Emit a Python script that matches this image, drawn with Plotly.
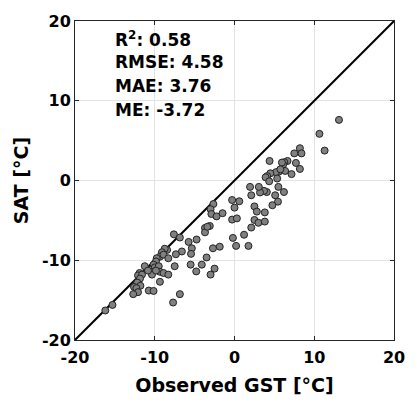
import plotly.graph_objects as go

gst = [13.1, 10.65, 11.3, 8.2, 8.4, 7.5, 7.7, 8.2, 7.15, 6.65, 6.25, 6.1, 5.95, 6.35, 5.55, 5.2, 5.75,
       4.4, 4.5, 4.1, 3.9, 4.35, 5.35, 5.5, 6.2, 5.1, 5.45, 4.75, 4.05, 3.7, 3.2, 3.05, 1.95, 2.1,
       2.5, 2.8, 3.8, 2.5, 3.0, 3.8, 2.1, 1.2, 1.75, -0.2, 0.2, -0.3, 0.6, 0.0, -0.3, 0.3,
       -2.65, -3.0, -2.9, -2.25, -1.5, -3.1, -3.7, -3.7, -3.4, -2.7, -1.85, -4.75, -5.75, -5.35,
       -5.45, -3.5, -4.1, -5.5, -4.8, -3.0, -2.5, -7.6, -6.85, -6.6, -7.35, -7.5, -6.85, -7.7,
       -8.45, -8.75, -9.1, -9.35, -9.75, -8.9, -8.3, -9.85, -10.15, -10.0, -9.5, -9.35, -10.35,
       -10.35, -8.9, -8.3, -9.35, -11.25, -10.85, -11.9, -12.1, -11.6, -11.85, -12.2, -11.8,
       -12.6, -12.3, -12.1, -12.7, -10.75, -10.15, -16.2, -15.3, -9.85]
sat = [7.6, 5.85, 3.75, 4.05, 3.4, 3.4, 2.2, 1.45, 0.8, 2.45, 2.3, 2.0, 2.25, 1.2, 1.1, 1.05, 1.4,
       2.45, 0.9, 0.55, 0.4, -0.1, 0.25, -0.8, -1.45, -1.85, -2.65, -3.1, -1.45, -1.3, -1.5, -0.8,
       -0.8, -1.85, -3.25, -3.9, -4.0, -4.95, -5.3, -5.15, -5.9, -6.8, -8.2, -7.2, -8.2, -2.45,
       -2.6, -3.4, -4.9, -4.75, -2.95, -3.6, -4.2, -4.5, -4.1, -5.7, -5.95, -6.5, -5.8, -8.5,
       -8.3, -7.4, -7.7, -8.5, -9.2, -9.65, -10.55, -10.55, -11.4, -11.8, -11.05, -6.75, -7.15,
       -8.9, -9.25, -10.75, -14.25, -15.3, -8.7, -8.55, -9.0, -9.55, -9.75, -9.3, -9.75, -10.15,
       -10.55, -10.9, -10.75, -11.45, -11.45, -11.8, -11.6, -11.8, -12.7, -10.75, -11.3, -11.6,
       -11.9, -11.8, -12.3, -12.8, -13.2, -13.35, -13.5, -14.0, -14.25, -13.8, -13.85, -16.3,
       -15.6, -11.3]

axis_range = [-20, 20]
tick_vals = [-20, -10, 0, 10, 20]
tick_text = ["-20", "-10", "0", "10", "20"]
stats_lines = ["R<sup>2</sup>: 0.58", "RMSE: 4.58", "MAE: 3.76", "ME: -3.72"]

FONT = "DejaVu Sans"

fig = go.Figure()
fig.add_trace(go.Scatter(x=axis_range, y=axis_range, mode="lines",
                         line=dict(color="black", width=2), showlegend=False, hoverinfo="skip"))
fig.add_trace(go.Scatter(x=gst, y=sat, mode="markers",
                         marker=dict(size=7, color="#808080", line=dict(color="#222222", width=1)),
                         showlegend=False))

axis_common = dict(range=axis_range, tickvals=tick_vals,
                   ticktext=["<b>" + t + "</b>" for t in tick_text], showgrid=True,
                   gridcolor="#e3e3e3", gridwidth=1, zeroline=False, showline=True,
                   linecolor="#262626", linewidth=1, mirror="ticks", ticks="inside", ticklen=4,
                   tickcolor="#262626",
                   tickfont=dict(family=FONT, size=16, color="black", weight="bold"))
fig.update_xaxes(**axis_common, ticklabelstandoff=3,
                 title=dict(text="<b>Observed GST [°C]</b>", standoff=12,
                            font=dict(family=FONT, size=19, color="black")))
fig.update_yaxes(**axis_common,
                 title=dict(text="<b>SAT [°C]</b>", standoff=8,
                            font=dict(family=FONT, size=19, color="black")))

line_y = [0.945, 0.87, 0.795, 0.72]
for txt, yy in zip(stats_lines, line_y):
    fig.add_annotation(x=0.118, y=yy, xref="paper", yref="paper", xanchor="left", yanchor="middle",
                       text="<b>" + txt + "</b>", showarrow=False, align="left",
                       font=dict(family=FONT, size=17, color="black"))

fig.update_layout(width=417, height=409, margin=dict(l=75, r=17, t=15, b=69),
                  plot_bgcolor="white", paper_bgcolor="white")
fig.write_html("out.html")
